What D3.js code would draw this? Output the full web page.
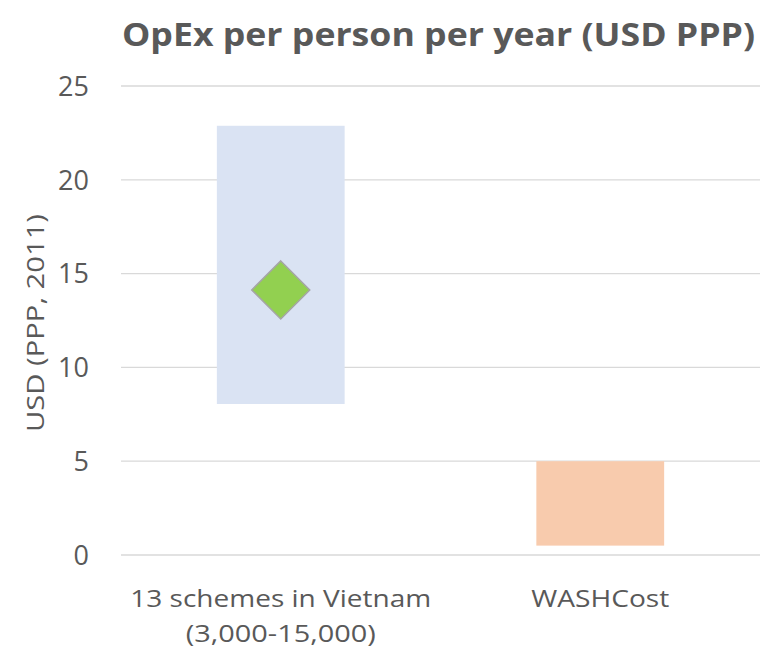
<!DOCTYPE html>
<html>
<head>
<meta charset="utf-8">
<script src="https://cdn.jsdelivr.net/npm/d3@7"></script>
<style>
  body { margin: 0; background: #fff; }
  text { font-family: "Open Sans", Lato, sans-serif; fill: #595959; }
</style>
</head>
<body>
<div id="chart"></div>
<script>
const categories = ['13 schemes in Vietnam|(3,000-15,000)', 'WASHCost'];
const lowValues = [8.05, 0.5];
const highValues = [22.88, 5.0];
const pointValues = [14.13, null];
const yTicks = [0, 5, 10, 15, 20, 25];
const barColors = ['#dae3f3', '#f8cbad'];

const width = 763;
const height = 652;

const svg = d3.select('#chart').append('svg')
    .attr('width', width)
    .attr('height', height);

const x = d3.scaleBand()
    .domain(categories)
    .range([121, 760])
    .paddingInner(0.6)
    .paddingOuter(0.3);

const y = d3.scaleLinear()
    .domain([0, 25])
    .range([555, 86]);

// gridlines
svg.append('g')
  .selectAll('line')
  .data(yTicks)
  .enter().append('line')
    .attr('x1', 121)
    .attr('x2', 760)
    .attr('y1', d => y(d))
    .attr('y2', d => y(d))
    .attr('stroke', '#d9d9d9')
    .attr('stroke-width', 1.3);

// tick labels
svg.append('g')
  .selectAll('text')
  .data(yTicks)
  .enter().append('text')
    .attr('x', 89)
    .attr('y', d => y(d))
    .attr('dy', '0.36em')
    .attr('text-anchor', 'end')
    .style('font-size', '27px')
    .text(d => d);

// floating bars
svg.append('g')
  .selectAll('rect')
  .data(categories)
  .enter().append('rect')
    .attr('x', d => x(d))
    .attr('width', x.bandwidth())
    .attr('y', (d, i) => y(highValues[i]))
    .attr('height', (d, i) => y(lowValues[i]) - y(highValues[i]))
    .attr('fill', (d, i) => barColors[i]);

// diamond markers
svg.append('g')
  .selectAll('path')
  .data(categories.filter((d, i) => pointValues[i] != null))
  .enter().append('path')
    .attr('transform', d => 'translate(' + (x(d) + x.bandwidth() / 2) + ',' + y(pointValues[categories.indexOf(d)]) + ')')
    .attr('d', 'M0,-29L29,0L0,29L-29,0Z')
    .attr('fill', '#92d050')
    .attr('stroke', '#a5a5a5')
    .attr('stroke-width', 1.5);

// category labels (widths)
const labelWidths = {
  '13 schemes in Vietnam': 301,
  '(3,000-15,000)': 190,
  'WASHCost': 138
};
const catLabels = svg.append('g')
  .selectAll('text')
  .data(categories)
  .enter().append('text')
    .attr('x', d => x(d) + x.bandwidth() / 2)
    .attr('y', 607)
    .attr('text-anchor', 'middle')
    .style('font-size', '24px');
catLabels.each(function(d) {
  const lines = d.split('|');
  const t = d3.select(this);
  lines.forEach((line, i) => {
    t.append('tspan')
      .attr('x', x(d) + x.bandwidth() / 2)
      .attr('dy', i === 0 ? 0 : 35)
      .attr('textLength', labelWidths[line])
      .attr('lengthAdjust', 'spacingAndGlyphs')
      .text(line);
  });
});

// y axis title
svg.append('text')
    .attr('transform', 'translate(44,' + 323 + ') rotate(-90)')
    .attr('text-anchor', 'middle')
    .attr('textLength', 218)
    .attr('lengthAdjust', 'spacingAndGlyphs')
    .style('font-size', '23px')
    .text('USD (PPP, 2011)');

// chart title
svg.append('text')
    .attr('x', 122)
    .attr('y', 46)
    .attr('textLength', 633)
    .attr('lengthAdjust', 'spacingAndGlyphs')
    .style('font-size', '32px')
    .style('font-weight', 'bold')
    .text('OpEx per person per year (USD PPP)');
</script>
</body>
</html>
